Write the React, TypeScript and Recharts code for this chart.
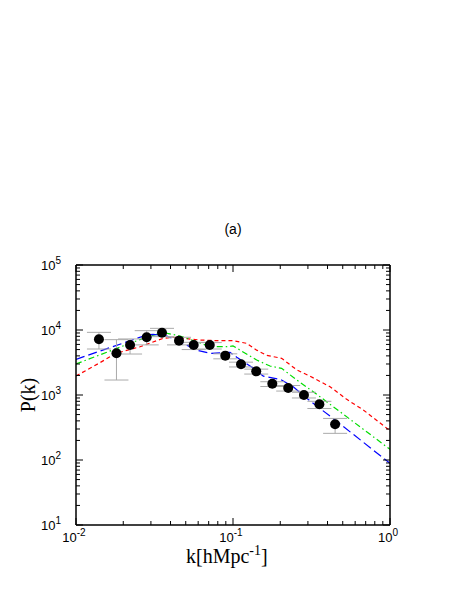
import { ComposedChart, Line, Scatter, ErrorBar, XAxis, YAxis } from "recharts";

// observed power spectrum (points with error bars)
const K_OBS = [0.014, 0.0181, 0.0221, 0.0282, 0.0353, 0.0453, 0.0562, 0.0711, 0.0893, 0.1125, 0.1406, 0.178, 0.2247, 0.283, 0.355, 0.447];
const P_OBS = [7200, 4380, 5870, 7730, 9100, 6860, 5870, 5870, 4030, 2970, 2310, 1490, 1280, 1000, 720, 354];
const P_LOW = [5100, 1700, 4270, 5900, 7900, 5900, 5000, 5100, 3600, 2700, 2100, 1350, 1150, 900, 620, 257];
const P_HIGH = [9200, 7100, 7280, 9770, 10600, 7730, 6460, 6400, 4300, 3200, 2500, 1600, 1400, 1100, 800, 436];

// model curves
const RED_K = [0.01, 0.014, 0.018, 0.0256, 0.036, 0.0417, 0.0617, 0.0826, 0.1, 0.122, 0.1415, 0.164, 0.204, 0.255, 0.309, 0.415, 0.53, 0.676, 1.0];
const RED_P = [1960, 3080, 4380, 5530, 7450, 7730, 7010, 6840, 6840, 6240, 4900, 4070, 3670, 2430, 1950, 1340, 857, 589, 282];

const GREEN_K = [0.01, 0.0221, 0.0296, 0.036, 0.046, 0.0588, 0.0714, 0.091, 0.1, 0.111, 0.1415, 0.172, 0.204, 0.255, 0.358, 1.0];
const GREEN_P = [3000, 6240, 8090, 9120, 8090, 6600, 5530, 5530, 5680, 4900, 3450, 2790, 2570, 1700, 942, 146];

const BLUE_K = [0.01, 0.0221, 0.0282, 0.031, 0.0379, 0.0459, 0.0588, 0.0714, 0.0957, 0.1057, 0.135, 0.156, 0.2, 0.242, 0.295, 0.447, 1.0];
const BLUE_P = [3540, 6840, 8370, 8590, 8090, 6600, 4900, 4370, 4540, 3800, 2570, 1950, 1740, 1340, 890, 412, 89];

const X_MAJOR = [0.01, 0.1, 1];
const Y_MAJOR = [10, 100, 1000, 10000, 100000];
const X_LABELS = ["-2", "-1", "0"];
const Y_LABELS = ["1", "2", "3", "4", "5"];

const withMinor = (majors: number[]) => {
  const out: number[] = [];
  majors.forEach((m, i) => {
    out.push(m);
    if (i < majors.length - 1) for (let j = 2; j <= 9; j++) out.push(+(m * j).toPrecision(6));
  });
  return out;
};
const X_TICKS = withMinor(X_MAJOR);
const Y_TICKS = withMinor(Y_MAJOR);

const obsData = K_OBS.map((k, i) => ({
  k,
  p: P_OBS[i],
  err: [P_OBS[i] - P_LOW[i], P_HIGH[i] - P_OBS[i]],
}));
const toRows = (ks: number[], ps: number[]) => ks.map((k, i) => ({ k, p: ps[i] }));

const TICK_FONT = "'Liberation Sans', Arial, sans-serif";
const SERIF = "'Liberation Serif', 'Times New Roman', serif";

const isMajor = (v: number, majors: number[]) => majors.some((m) => Math.abs(v / m - 1) < 1e-6);

function XTick(props: any) {
  const { x, y, payload, top } = props;
  const v = payload.value;
  const major = isMajor(v, X_MAJOR);
  const len = major ? 7 : 4;
  const dir = top ? 1 : -1;
  return (
    <g>
      <line x1={x} y1={y} x2={x} y2={y + dir * len} stroke="#000" strokeWidth={1} />
      {major && !top && (
        <text x={x - 2} y={y + 17} textAnchor="middle" fontSize={13} fontFamily={TICK_FONT} fill="#000">
          <tspan>10</tspan>
          <tspan dy={-6} fontSize={10}>{X_LABELS[X_MAJOR.findIndex((m) => isMajor(v, [m]))]}</tspan>
        </text>
      )}
    </g>
  );
}

function YTick(props: any) {
  const { x, y, payload, right } = props;
  const v = payload.value;
  const major = isMajor(v, Y_MAJOR);
  const len = major ? 7 : 4;
  const dir = right ? -1 : 1;
  return (
    <g>
      <line x1={x} y1={y} x2={x + dir * len} y2={y} stroke="#000" strokeWidth={1} />
      {major && !right && (
        <text x={x - 15} y={y + 5} textAnchor="end" fontSize={13} fontFamily={TICK_FONT} fill="#000">
          <tspan>10</tspan>
          <tspan dy={-6} fontSize={10}>{Y_LABELS[Y_MAJOR.findIndex((m) => isMajor(v, [m]))]}</tspan>
        </text>
      )}
    </g>
  );
}

const Dot = (props: any) => <circle cx={props.cx} cy={props.cy} r={5} fill="#000" />;

const AXIS_LINE = { stroke: "#000", strokeWidth: 1.5 };

export default function App() {
  return (
    <div style={{ position: "absolute", left: 0, top: 0, width: 457, height: 591, background: "#fff" }}>
      <ComposedChart width={457} height={591} margin={{ top: 264, right: 66, bottom: 65, left: 75 }}>
        <XAxis
          dataKey="k"
          type="number"
          scale="log"
          domain={[0.01, 1]}
          allowDataOverflow
          ticks={X_TICKS}
          interval={0}
          tickSize={0}
          tickMargin={0}
          tickLine={false}
          height={1}
          axisLine={AXIS_LINE}
          tick={<XTick />}
        />
        <XAxis
          xAxisId="top"
          orientation="top"
          dataKey="k"
          type="number"
          scale="log"
          domain={[0.01, 1]}
          allowDataOverflow
          ticks={X_TICKS}
          interval={0}
          tickSize={0}
          tickMargin={0}
          tickLine={false}
          height={1}
          axisLine={AXIS_LINE}
          tick={<XTick top />}
        />
        <YAxis
          dataKey="p"
          type="number"
          scale="log"
          domain={[10, 100000]}
          allowDataOverflow
          ticks={Y_TICKS}
          interval={0}
          tickSize={0}
          tickMargin={0}
          tickLine={false}
          width={1}
          axisLine={AXIS_LINE}
          tick={<YTick />}
        />
        <YAxis
          yAxisId="right"
          orientation="right"
          dataKey="p"
          type="number"
          scale="log"
          domain={[10, 100000]}
          allowDataOverflow
          ticks={Y_TICKS}
          interval={0}
          tickSize={0}
          tickMargin={0}
          tickLine={false}
          width={1}
          axisLine={AXIS_LINE}
          tick={<YTick right />}
        />
        <Line data={toRows(RED_K, RED_P)} dataKey="p" type="linear" stroke="#ff0000" strokeWidth={1.2} strokeDasharray="4 3" dot={false} isAnimationActive={false} />
        <Line data={toRows(GREEN_K, GREEN_P)} dataKey="p" type="linear" stroke="#00dd00" strokeWidth={1.2} strokeDasharray="6 3 1.5 3" dot={false} isAnimationActive={false} />
        <Line data={toRows(BLUE_K, BLUE_P)} dataKey="p" type="linear" stroke="#0000ff" strokeWidth={1.2} strokeDasharray="9 4" dot={false} isAnimationActive={false} />
        <Scatter data={obsData} dataKey="p" shape={<Dot />} isAnimationActive={false}>
          <ErrorBar dataKey="err" direction="y" width={12} stroke="#aaa" strokeWidth={1} />
        </Scatter>
      </ComposedChart>

      <div style={{ position: "absolute", left: 0, width: 457, top: 221, textAlign: "center", paddingLeft: 9, boxSizing: "border-box", fontFamily: TICK_FONT, fontSize: 14 }}>
        (a)
      </div>
      <div
        style={{
          position: "absolute",
          left: 28,
          top: 395,
          transform: "translate(-50%, -50%) rotate(-90deg)",
          fontFamily: SERIF,
          fontSize: 20,
          whiteSpace: "nowrap",
        }}
      >
        P(k)
      </div>
      <div style={{ position: "absolute", left: 186, top: 547, fontFamily: SERIF, fontSize: 20, whiteSpace: "nowrap", lineHeight: "18px" }}>
        k[hMpc<span style={{ fontSize: 14, position: "relative", top: -8 }}>-1</span>]
      </div>
    </div>
  );
}
